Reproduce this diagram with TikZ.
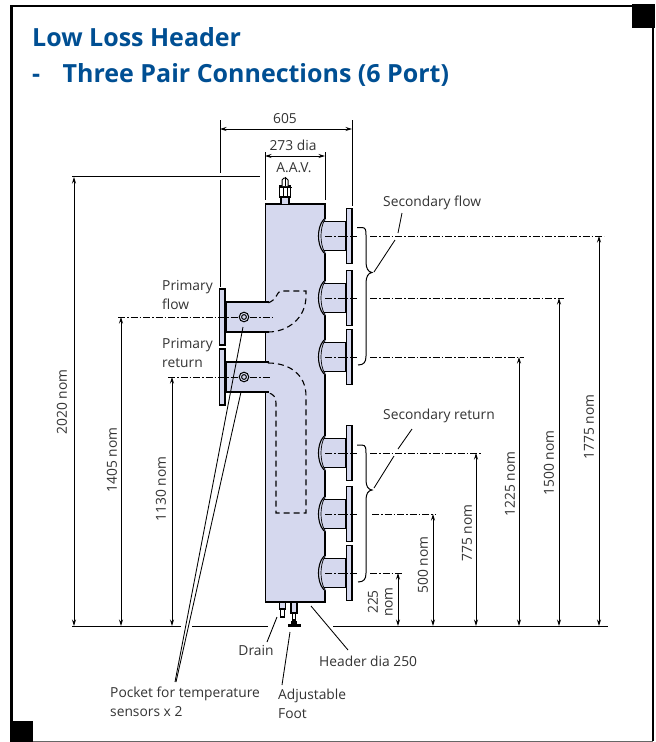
\documentclass[tikz,border=0pt]{standalone}
\usepackage{fontspec}
\setmainfont{Open Sans}
\usetikzlibrary{arrows.meta}
\definecolor{hdr}{HTML}{D5D8EE}
\definecolor{ttl}{HTML}{004F93}
\definecolor{txt}{HTML}{333333}
\tikzset{
 ln/.style={line width=1.1pt,black},
 thin line/.style={line width=0.85pt,black},
 hid/.style={line width=1.1pt,black,dash pattern=on 6pt off 4pt},
 cen/.style={line width=0.7pt,black,dash pattern=on 7pt off 2pt on 1.5pt off 2pt},
 dim/.style={line width=0.85pt,black,{Stealth[length=6.5pt,width=4pt]}-{Stealth[length=6.5pt,width=4pt]}},
 lab/.style={font=\fontsize{13.8}{15}\selectfont,text=txt,inner sep=0pt},
 vlab/.style={lab,rotate=90},
 title/.style={font=\fontsize{25}{28}\selectfont\bfseries,text=ttl,inner sep=0pt,anchor=base west},
}
\begin{document}
\begin{tikzpicture}[x=1pt,y=-1pt]
\useasboundingbox (0,0) rectangle (656,742);
\fill[white] (0,0) rectangle (656,742);
% frame
\draw[line width=2.4pt,black] (11.5,741) -- (11.5,6) -- (653,6) -- (653,741);
\draw[line width=1pt,black!60] (11.5,741) -- (653,741);
\fill[black] (632,4) rectangle (655,28);
\fill[black] (10,721) rectangle (33,742);
% title
\node[title] (t1) at (32,46) {Low Loss Header};
\node[title] (t2) at (32,82) {-};
\node[title] (t3) at (62.5,82) {Three Pair Connections (6 Port)};
% body fill
\fill[hdr] (265.5,204) rectangle (325,602);
\fill[hdr] (226,302) rectangle (266,332);
\fill[hdr] (226,363) rectangle (266,393);
% body outline
\draw[ln] (265.5,302) -- (265.5,204) -- (325,204) -- (325,602) -- (265.5,602) -- (265.5,393);
\draw[ln] (265.5,332) -- (265.5,363);
% left stubs
\foreach \c in {317,377}{
 \draw[ln] (226,\c-15) -- (269,\c-15);
 \draw[ln] (226,\c+15) -- (269,\c+15);
 \draw[ln,fill=hdr] (219.5,\c-28) rectangle (225,\c+28);
 \draw[line width=1.6pt] (225.8,\c-16) -- (225.8,\c+16);
}
% right ports
\foreach \c in {236,298,357,453,514,573}{
 \fill[hdr] (320,\c-14.5) rectangle (346,\c+14.5);
 \fill[hdr] (324,\c-17) .. controls (319.5,\c-12) and (318.5,\c-5) .. (318.5,\c)
   .. controls (318.5,\c+5) and (319.5,\c+12) .. (324,\c+17) -- (326,\c+17) -- (326,\c-17) -- cycle;
 \draw[ln] (324,\c-17) .. controls (319.5,\c-12) and (318.5,\c-5) .. (318.5,\c)
   .. controls (318.5,\c+5) and (319.5,\c+12) .. (324,\c+17);
 \draw[line width=0.7pt] (325,\c-17) .. controls (322,\c-12) and (321,\c-5) .. (321,\c)
   .. controls (321,\c+5) and (322,\c+12) .. (325,\c+17);
 \draw[ln] (323.5,\c-14.5) -- (346,\c-14.5);
 \draw[ln] (323.5,\c+14.5) -- (346,\c+14.5);
 \draw[ln,fill=hdr] (346.3,\c-27.5) rectangle (352,\c+27.5);
 \draw[line width=1.1pt] (345.8,\c-15) -- (345.8,\c+15);
 \draw[line width=1.1pt] (352.8,\c-18) -- (352.8,\c+18);
 \draw[cen] (325,\c) -- (359,\c);
}
% hidden pipes
\draw[hid] (268,332) .. controls (288,332) and (306,318) .. (306,296) -- (306,291) -- (281,291) .. controls (277,291) and (277,300) .. (268,303);
\draw[hid] (268,363) .. controls (290,363) and (306,375) .. (306,396) -- (306,513) -- (276,513) -- (276,403) .. controls (276,397) and (273,394) .. (269,393);
% AAV
\draw[ln,fill=hdr] (281,204) -- (281,195) -- (289,195) -- (289,204);
\draw[ln,fill=white] (279.5,186) rectangle (290.5,197);
\draw[line width=1.6pt] (278.5,187.5) -- (291.5,187.5);
\draw[line width=0.7pt] (283,187) -- (283,197) (287,187) -- (287,197);
\draw[line width=1pt,fill=white] (282,186) -- (282,180) -- (284,178) -- (286,178) -- (288,180) -- (288,186);
\draw[line width=0.7pt] (285,176.5) -- (285,186);
% drain
\draw[ln,fill=hdr] (279.5,602) rectangle (285.5,609);
\draw[ln,fill=white] (280.5,609) rectangle (284.5,617);
% foot
\draw[ln,fill=hdr] (291,602) rectangle (297,613);
\draw[ln,fill=white] (292.5,613) rectangle (295.5,620);
\fill[black] (287.5,623.5) rectangle (301,626.5);
\fill[black] (291,620.5) rectangle (297,623.5);
% pockets
\foreach \c in {317,377}{
 \draw[line width=1pt] (244,\c) circle (4.8pt);
 \draw[line width=1pt] (244,\c) circle (2.4pt);
}
% centre lines to dimensions
\coordinate (cA) at (604,236);
\coordinate (cB) at (564,298);
\coordinate (cC) at (524,357);
\coordinate (cD) at (481,453);
\coordinate (cE) at (436,514);
\coordinate (cF) at (403,573);
\draw[cen] (370,236) -- (cA);
\draw[cen] (370,298) -- (cB);
\draw[cen] (370,357) -- (cC);
\draw[cen] (370,453) -- (cD);
\draw[cen] (372,514) -- (cE);
\draw[cen] (370,573) -- (cF);
\draw[cen] (118,317) -- (238,317) (250,317) -- (274,317);
\draw[cen] (168,377) -- (238,377) (250,377) -- (271,377);
% extension lines
\draw[thin line] (220,120) -- (220,173) (220,180) -- (220,287);
\draw[thin line] (352,120) -- (352,206);
\draw[thin line] (265,152) -- (265,200);
\draw[thin line] (325,152) -- (325,200);
\draw[thin line] (72,176.5) -- (260,176.5);
\draw[thin line] (72,626) -- (181,626) (192,626) -- (268,626);
\draw[thin line] (333,626) -- (608,626);
% dimensions
\coordinate (b605l) at (220,129); \coordinate (b605r) at (352,129);
\coordinate (b273l) at (265,156); \coordinate (b273r) at (325,156);
\draw[dim] (b605l) -- (b605r);
\draw[dim] (b273l) -- (b273r);
\draw[dim] (74,177) -- (74,626);
\draw[dim] (121,317) -- (121,626);
\draw[dim] (172,377) -- (172,626);
\draw[dim] (398,573) -- (398,626);
\draw[dim] (433,514) -- (433,626);
\draw[dim] (476,453) -- (476,626);
\draw[dim] (519,357) -- (519,626);
\draw[dim] (559,298) -- (559,626);
\draw[dim] (599,236) -- (599,626);
% braces
\draw[line width=1pt] (357,227.5) -- (362,227.5) .. controls (366,227.5) and (366,231) .. (366,235) -- (366,262)
  .. controls (366,268) and (368,272) .. (372,272.5) .. controls (368,273) and (366,277) .. (366,283) -- (366,356)
  .. controls (366,362) and (364,365) .. (358,365);
\draw[line width=1pt] (357,445) -- (362,445) .. controls (366,445) and (366,449) .. (366,453) -- (366,480)
  .. controls (366,486) and (368,489.5) .. (372,490) .. controls (368,490.5) and (366,494) .. (366,500) -- (366,573)
  .. controls (366,579) and (364,582) .. (358,582);
% labels
\node[lab] (l605) at (285,119) {605};
\node[lab] (l273) at (293,145) {273 dia};
\node[lab] (laav) at (294,168) {A.A.V.};
\node[lab,anchor=west] (lpf1) at (162,287) {Primary};
\node[lab,anchor=west] (lpf2) at (162,304) {flow};
\node[lab,anchor=west] (lpr1) at (162,345) {Primary};
\node[lab,anchor=west] (lpr2) at (162,363) {return};
\node[lab,anchor=west] (lsf) at (383,203) {Secondary flow};
\node[lab,anchor=west] (lsr) at (383,416) {Secondary return};
\node[lab] (ldr) at (256,650) {Drain};
\node[lab,anchor=west] (lhd) at (319,661) {Header dia 250};
\node[lab,anchor=west] (laf1) at (278,696) {Adjustable};
\node[lab,anchor=west] (laf2) at (278,714) {Foot};
\node[lab,anchor=west] (lpk1) at (110,694) {Pocket for temperature};
\node[lab,anchor=west] (lpk2) at (110,712) {sensors x 2};
\node[vlab] (d2020) at (62,402) {2020 nom};
\node[vlab] (d1405) at (112,460) {1405 nom};
\node[vlab] (d1130) at (161,489) {1130 nom};
\node[vlab] (d225a) at (373,602) {225};
\node[vlab] (d225b) at (389,602) {nom};
\node[vlab] (d500) at (423,565) {500 nom};
\node[vlab] (d775) at (467,533) {775 nom};
\node[vlab] (d1225) at (510,484) {1225 nom};
\node[vlab] (d1500) at (549,463) {1500 nom};
\node[vlab] (d1775) at (589,427) {1775 nom};
% leaders
\draw[thin line] (374,272) -- (395,240) (398,233) -- (402,213);
\draw[thin line] (374,488) -- (394,456) (398,449) -- (412,429);
\draw[thin line] (243,327) -- (175,682);
\draw[thin line] (241,392) -- (176,682);
\draw[thin line] (277,617) -- (267,642);
\draw[thin line] (290,632) -- (282,685);
\draw[thin line] (311,606) -- (348,650);
\end{tikzpicture}
\end{document}
